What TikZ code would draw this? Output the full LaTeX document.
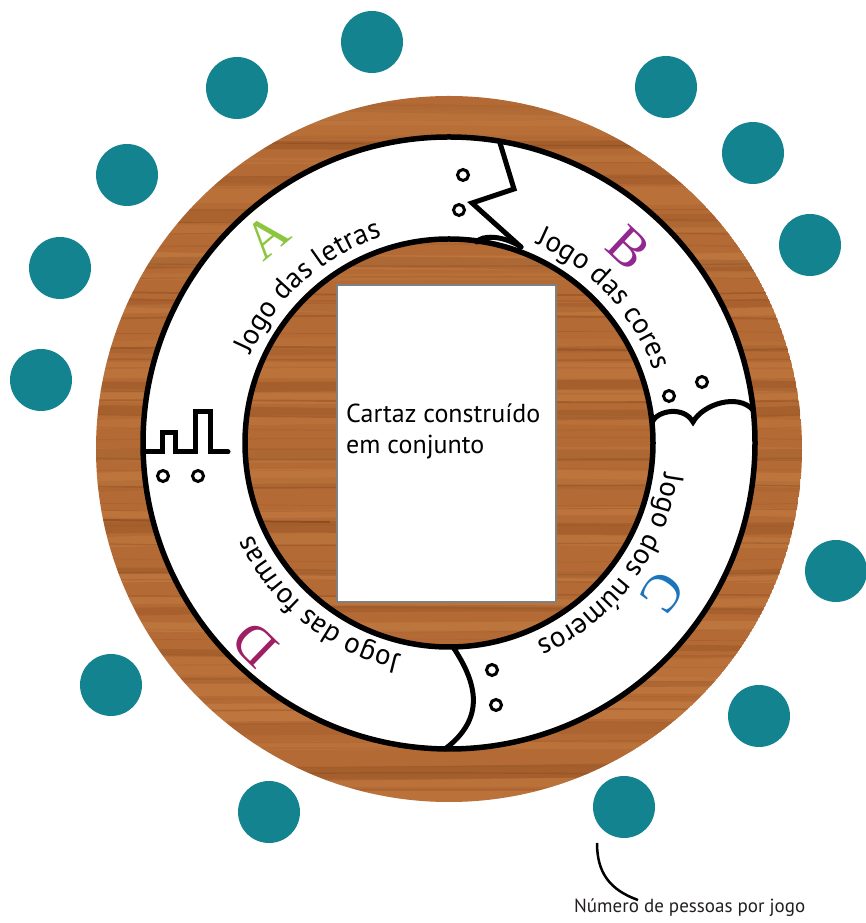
\documentclass[tikz,border=0pt]{standalone}
\usepackage{fontspec}
\setmainfont{PT Sans}
\newfontfamily\gamefont{PT Sans}
\newfontfamily\notefont{PT Sans}
\newfontfamily\lettersfont{Liberation Serif}
\usetikzlibrary{decorations.text}

\definecolor{seatteal}{RGB}{20,131,144}
\definecolor{woodbase}{RGB}{180,106,52}
\definecolor{wooddark}{RGB}{112,58,22}
\definecolor{woodlight}{RGB}{214,148,88}
\definecolor{letA}{RGB}{140,198,63}
\definecolor{letB}{RGB}{146,39,143}
\definecolor{letC}{RGB}{28,117,188}
\definecolor{letD}{RGB}{158,31,99}
\definecolor{posterline}{RGB}{128,128,128}
\definecolor{notetext}{RGB}{35,31,32}

\tikzset{
  seat/.style={circle, fill=seatteal, minimum size=62pt, inner sep=0pt},
  ringline/.style={line width=5.5pt},
  divider/.style={line width=5pt, line join=miter, line cap=round},
  token/.style={line width=3pt},
  poster/.style={fill=white, draw=posterline, line width=2pt},
  bigletter/.style={font=\lettersfont\fontsize{54}{54}\selectfont, inner sep=0pt},
  gametitle/.style={decorate, decoration={text along path, text align=center,
      text={|\gamefont\fontsize{29}{29}\selectfont|#1}}},
}

\begin{document}
\begin{tikzpicture}[x=1pt, y=1pt]
\useasboundingbox (0,0) rectangle (866,923);

% ---- wooden table top ----
\begin{scope}
  \clip (449,474) circle (353);
  \fill[woodbase] (449,474) circle (353);
  \pgfmathsetseed{11}
  % broad light and dark bands
  \foreach \k in {0,...,24}{
    \pgfmathsetmacro{\yy}{118 + \k*29 + 8*rand}
    \pgfmathsetmacro{\ww}{6 + 14*rnd}
    \pgfmathsetmacro{\op}{0.10 + 0.22*rnd}
    \pgfmathsetmacro{\wa}{\yy + 10*rand}
    \pgfmathsetmacro{\wb}{\yy + 10*rand}
    \draw[woodlight, line width=\ww pt, opacity=\op]
      (90,\yy) .. controls (300,\wa) and (600,\wb) .. (810,\yy);
  }
  \foreach \k in {0,...,18}{
    \pgfmathsetmacro{\yy}{125 + \k*38 + 10*rand}
    \pgfmathsetmacro{\ww}{4 + 10*rnd}
    \pgfmathsetmacro{\op}{0.08 + 0.16*rnd}
    \pgfmathsetmacro{\wa}{\yy + 10*rand}
    \pgfmathsetmacro{\wb}{\yy + 10*rand}
    \draw[wooddark, line width=\ww pt, opacity=\op]
      (90,\yy) .. controls (330,\wa) and (580,\wb) .. (810,\yy);
  }
  % fine grain
  \foreach \k in {0,...,50}{
    \pgfmathsetmacro{\yy}{116 + \k*14 + 5*rand}
    \pgfmathsetmacro{\ww}{0.5 + 1.5*rnd}
    \pgfmathsetmacro{\op}{0.08 + 0.22*rnd}
    \pgfmathsetmacro{\wa}{\yy + 6*rand}
    \pgfmathsetmacro{\wb}{\yy + 6*rand}
    \draw[wooddark, line width=\ww pt, opacity=\op]
      (90,\yy) .. controls (330,\wa) and (580,\wb) .. (810,\yy);
  }
  % board seam on the left
  \draw[wooddark, line width=2pt, opacity=0.45] (90,403) -- (330,401);
\end{scope}

% ---- white game track ----
\fill[white, even odd rule] (449,480) circle (306) (449,480) circle (204);
\draw[ringline] (449,480) circle (306);
\draw[ringline] (449,480) circle (204);

% ---- dividers between the four games ----
\draw[divider] (500,780) -- (514,734) -- (472,720) -- (521,676);
\draw[divider] (477,681) .. controls (481,688) and (503,688) .. (521,676);
\draw[divider] (652,501) .. controls (658,513) and (684,517) .. (693,501)
               .. controls (703,519) and (738,530) .. (753,513);
\draw[divider] (143,471) -- (162,471) -- (162,490) -- (175,490) -- (175,471)
               -- (195,471) -- (195,511) -- (210,511) -- (210,471) -- (228,471);
\draw[divider] (453,276) .. controls (477,240) and (486,205) .. (445,174);

% ---- player tokens ----
\foreach \p in {(463,748),(459,713),(669,527),(702,541),
                (163,447),(198,447),(492,253),(496,218)}
  \draw[token] \p circle (5.5);

% ---- poster in the middle ----
\draw[poster] (337,321) rectangle (556,638);
\node[anchor=base west, align=left, inner sep=0pt,
      font=\fontsize{26}{31.5}\selectfont] (cartaz) at (346,469)
  {Cartaz construído\\em conjunto};

% ---- game titles along the track ----
\path[gametitle={Jogo das letras}] (449,480) ++(172:217) arc[start angle=172, end angle=92, radius=217];
\path[gametitle={Jogo das cores}] (449,480) ++(83:217) arc[start angle=83, end angle=3, radius=217];
\path[gametitle={Jogo dos números}] (449,480) ++(8:217) arc[start angle=8, end angle=-82, radius=217];
\path[gametitle={Jogo das formas}] (449,480) ++(271:217) arc[start angle=271, end angle=191, radius=217];

% ---- game letters ----
\node[bigletter, text=letA, rotate=40]   (la) at (267,687) {A};
\node[bigletter, text=letB, rotate=-43]  (lb) at (629,675) {B};
\node[bigletter, text=letC, rotate=-125] (lc) at (663,331) {C};
\node[bigletter, text=letD, rotate=136]  (ld) at (255,278) {D};

% ---- seats ----
\node[seat] (s1)  at (372,881) {};
\node[seat] (s2)  at (237,835) {};
\node[seat] (s3)  at (127,748) {};
\node[seat] (s4)  at (60,655)  {};
\node[seat] (s5)  at (41,543)  {};
\node[seat] (s6)  at (666,836) {};
\node[seat] (s7)  at (753,770) {};
\node[seat] (s8)  at (810,678) {};
\node[seat] (s9)  at (836,352) {};
\node[seat] (s10) at (759,207) {};
\node[seat] (s11) at (624,116) {};
\node[seat] (s12) at (111,238) {};
\node[seat] (s13) at (269,111) {};

% ---- note ----
\node[anchor=base west, inner sep=0pt, text=notetext,
      font=\notefont\fontsize{19}{22}\selectfont] (note) at (574,10)
  {Número de pessoas por jogo};
\coordinate (notestart) at (597,80);
\draw[line width=2.5pt] (notestart) .. controls (597,50) and (610,33) .. (638,23);
\end{tikzpicture}
\end{document}
